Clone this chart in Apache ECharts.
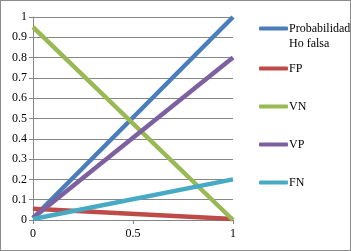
<!DOCTYPE html>
<html>
<head>
<meta charset="utf-8">
<script src="https://cdn.jsdelivr.net/npm/echarts@6/dist/echarts.min.js"></script>
<style>
html,body{margin:0;padding:0;background:#fff;}
#chart{width:351px;height:251px;box-sizing:border-box;border:1px solid #8c8c8c;}
</style>
</head>
<body>
<div id="chart"></div>
<script>
// datos
var xValues = [0, 1];
var seriesNames = ['Probabilidad Ho falsa', 'FP', 'VN', 'VP', 'FN'];
var probHoFalsa = [0.01, 1];
var fp = [0.055, 0.005];
var vn = [0.95, 0];
var vp = [0.01, 0.8];
var fn = [0.005, 0.2];
var colores = ['#4A7EBB', '#BE4B48', '#98B954', '#7D60A0', '#46AAC5'];
var legendTops = [5, 60, 98, 136, 174];

var chart = echarts.init(document.getElementById('chart'));

function pares(vals) {
    return xValues.map(function (x, i) { return [x, vals[i]]; });
}

var valores = [probHoFalsa, fp, vn, vp, fn];
var series = [];
var legends = [];
for (var i = 0; i < seriesNames.length; i++) {
    series.push({
        name: seriesNames[i],
        type: 'line',
        data: pares(valores[i]),
        symbol: 'none',
        lineStyle: { width: 4.5, color: colores[i] },
        itemStyle: { color: colores[i] }
    });
    legends.push({
        left: 258,
        top: legendTops[i],
        padding: 0,
        orient: 'vertical',
        icon: 'roundRect',
        itemWidth: 29,
        itemHeight: 4,
        itemGap: 0,
        data: [seriesNames[i]],
        // el primer texto va en dos lineas, con el icono a la altura de la primera
        formatter: i === 0 ? function (n) { return ' \nProbabilidad\nHo falsa'; } : '{name}',
        textStyle: {
            fontFamily: 'Liberation Serif',
            fontSize: 12,
            color: '#000',
            lineHeight: 15,
            padding: [0, 0, 0, -4]
        }
    });
}

var o = {
    animation: false,
    color: colores,
    legend: legends,
    grid: {
        left: 32,
        right: 117,
        top: 16,
        bottom: 30
    },
    xAxis: {
        type: 'value',
        min: 0,
        max: 1,
        interval: 0.5,
        axisLine: { show: true, lineStyle: { color: '#868686' } },
        axisTick: { show: true, length: 4, lineStyle: { color: '#868686' } },
        splitLine: { show: false },
        axisLabel: { fontFamily: 'Liberation Serif', fontSize: 12, color: '#000', margin: 8 }
    },
    yAxis: {
        type: 'value',
        min: 0,
        max: 1,
        interval: 0.1,
        axisLine: { show: true, lineStyle: { color: '#868686' } },
        axisTick: { show: true, length: 4, lineStyle: { color: '#868686' } },
        splitLine: { show: true, lineStyle: { color: '#868686' } },
        axisLabel: {
            fontFamily: 'Liberation Serif', fontSize: 12, color: '#000', margin: 6,
            formatter: function (v) { return String(Math.round(v * 10) / 10); }
        }
    },
    series: series
};
chart.setOption(o);
</script>
</body>
</html>
